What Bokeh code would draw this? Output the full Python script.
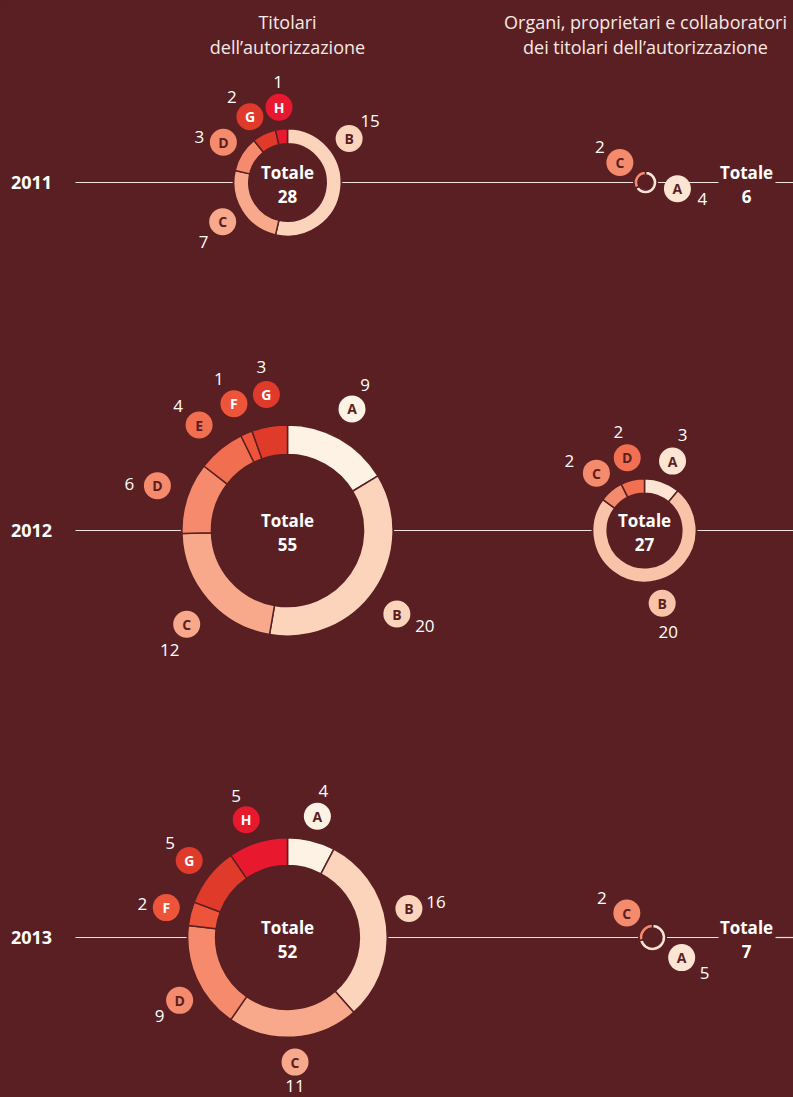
import math
from bokeh.plotting import figure
from bokeh.models import Range1d
from bokeh.core.properties import value
from bokeh.embed import file_html
from bokeh.resources import INLINE

# ---------------- data ----------------
years = ["2011", "2012", "2013"]
categories = ["A", "B", "C", "D", "E", "F", "G", "H"]

# Titolari dell'autorizzazione
titolari_2011 = [0, 15, 7, 3, 0, 0, 2, 1]
titolari_2012 = [9, 20, 12, 6, 4, 1, 3, 0]
titolari_2013 = [4, 16, 11, 9, 0, 2, 5, 5]

# Organi, proprietari e collaboratori dei titolari dell'autorizzazione
organi_2011 = [4, 0, 2, 0, 0, 0, 0, 0]
organi_2012 = [3, 20, 2, 2, 0, 0, 0, 0]
organi_2013 = [5, 0, 2, 0, 0, 0, 0, 0]

column_title_lines = [
    ["Titolari", "dell\u2019autorizzazione"],
    ["Organi, proprietari e collaboratori", "dei titolari dell\u2019autorizzazione"],
]
total_word = "Totale"

# ---------------- style / layout ----------------
BG = "#5a1f23"
DARK = "#5a1f23"
FONT = "Open Sans"
left_colors = ["#fef2e4", "#fcd4bb", "#f8a98b", "#f58b6c", "#f26e51", "#ee5439", "#e03a2b", "#e8192f"]
right_colors = ["#fde4d3", "#f9c3aa", "#f58b6d", "#f27052", "#f26e51", "#ee5439", "#e03a2b", "#e8192f"]
left_letter_colors = [DARK, DARK, DARK, DARK, DARK, "white", "white", "white"]
right_letter_colors = [DARK] * 8

W, H = 793, 1097
def Y(py):
    return H - py

row_y = [182, 530, 937]
col_x = [[287, 645], [287, 644], [287, 652]]
header_x = [287, 645]
px_per_unit = 1.92
line_start = 75

# per donut: gap of label circles beyond outer radius
label_gap = {(0, 0): 22, (1, 0): 32, (2, 0): 25, (0, 1): 21, (1, 1): 23, (2, 1): 22}
# per label: (angle nudge deg, number dx, number dy) in page pixels
label_nudge = {
    (0, 0): {"B": (-42, 21, -17), "C": (1, -19, 20), "D": (0, -24, -5), "G": (-4, -18, -20), "H": (0, -1, -25)},
    (1, 0): {"A": (-1.5, 13, -24), "B": (3, 28, 12), "C": (-2, -17, 26), "D": (1, -28, -2),
             "E": (-0.7, -21, -19), "F": (0, -15, -25), "G": (1, -5, -28)},
    (2, 0): {"A": (0, 6, -25), "B": (-6.5, 27, -7), "C": (0, 0, 24), "D": (-6, -20, 16),
             "F": (0, -24, -4), "G": (0, -19, -18), "H": (-2, -10, -24)},
    (0, 1): {"A": (-19, 25, 10), "C": (8, -20, -15)},
    (1, 1): {"A": (2, 10, -26), "B": (-7, 6, 29), "C": (0, -27, -12), "D": (0, -9, -26)},
    (2, 1): {"A": (-4, 23, 15), "C": (5, -25, -15)},
}

series = [[titolari_2011, organi_2011], [titolari_2012, organi_2012], [titolari_2013, organi_2013]]

p = figure(width=W, height=H, x_range=Range1d(0, W), y_range=Range1d(0, H),
           output_backend="svg", toolbar_location=None, x_axis_type=None, y_axis_type=None,
           min_border=0, background_fill_color=BG, border_fill_color=BG, outline_line_color=None)
p.grid.visible = False

# headers
for c, lines in enumerate(column_title_lines):
    for i, t in enumerate(lines):
        p.text(x=[header_x[c]], y=[Y(21 + 25 * i)], text=[t],
               text_align="center", text_baseline="middle", text_font=value(FONT),
               text_font_size="18px", text_color="#f6e9e6")

wx, wy, win, wout, ws, we, wc = [], [], [], [], [], [], []
cx_l, cy_l, cc_l, lt_l, ltc_l = [], [], [], [], []
nx, ny, nt = [], [], []

for r, yr in enumerate(years):
    cy = row_y[r]
    outers = []
    for c in range(2):
        vals = series[r][c]
        colors = left_colors if c == 0 else right_colors
        lcolors = left_letter_colors if c == 0 else right_letter_colors
        total = sum(vals)
        cx = col_x[r][c]
        outer = px_per_unit * total
        inner = outer - max(4.0, 0.28 * outer)
        outers.append(outer)
        cum = 0
        for k, v in enumerate(vals):
            if v == 0:
                continue
            a0 = math.pi / 2 - 2 * math.pi * cum / total
            a1 = math.pi / 2 - 2 * math.pi * (cum + v) / total
            wx.append(cx); wy.append(Y(cy)); win.append(inner); wout.append(outer)
            ws.append(a0); we.append(a1); wc.append(colors[k])
            mid = (cum + v / 2) / total * 360.0
            nud, ndx, ndy = label_nudge[(r, c)][categories[k]]
            th = math.radians(mid + nud)
            d = outer + label_gap[(r, c)]
            lx = cx + d * math.sin(th)
            ly = cy - d * math.cos(th)
            cx_l.append(lx); cy_l.append(Y(ly)); cc_l.append(colors[k])
            lt_l.append(categories[k]); ltc_l.append(lcolors[k])
            nx.append(lx + ndx); ny.append(Y(ly + ndy)); nt.append(str(v))
            cum += v
        tx = cx if outer > 30 else 746
        p.text(x=[tx], y=[Y(cy - 10)], text=[total_word], text_align="center", text_baseline="middle",
               text_font=value(FONT), text_font_style="bold", text_font_size="17px", text_color="white")
        p.text(x=[tx], y=[Y(cy + 14)], text=[str(total)], text_align="center", text_baseline="middle",
               text_font=value(FONT), text_font_style="bold", text_font_size="17px", text_color="white")
    # row lines
    xl, xr = col_x[r][0], col_x[r][1]
    ol, orr = outers
    segs = [(line_start, xl - ol - 1), (xl + ol + 1, xr - orr - 1)]
    if orr > 30:
        segs.append((xr + orr + 1, W))
    else:
        segs.append((xr + orr + 1, 718))
        segs.append((775, W))
    p.segment(x0=[a for a, b in segs], y0=[Y(cy)] * len(segs), x1=[b for a, b in segs],
              y1=[Y(cy)] * len(segs), line_color="#f3e4e2", line_width=1.2)
    # year label
    p.text(x=[31], y=[Y(cy)], text=[yr], text_align="center", text_baseline="middle",
           text_font=value(FONT), text_font_style="bold", text_font_size="18px", text_color="white")

p.annular_wedge(x=wx, y=wy, inner_radius=win, outer_radius=wout, start_angle=ws, end_angle=we,
                direction="clock", inner_radius_units="screen", outer_radius_units="screen",
                fill_color=wc, line_color=BG, line_width=1.5)
p.scatter(x=cx_l, y=cy_l, size=27, marker="circle", fill_color=cc_l, line_color=None)
p.text(x=cx_l, y=cy_l, text=lt_l, text_align="center", text_baseline="middle",
       text_font=value(FONT), text_font_style="bold", text_font_size="14px", text_color=ltc_l)
p.text(x=nx, y=ny, text=nt, text_align="center", text_baseline="middle",
       text_font=value(FONT), text_font_size="17px", text_color="white")

html = file_html(p, INLINE)
html = html.replace("</head>", "<style>html, body { background-color: #5a1f23; overflow: hidden; }</style></head>", 1)
open("out.html", "w").write(html)
